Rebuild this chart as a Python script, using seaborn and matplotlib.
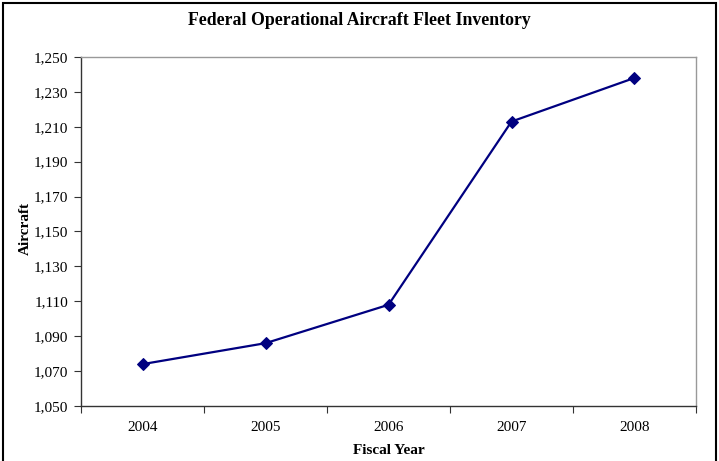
import matplotlib
matplotlib.use('Agg')
from matplotlib import pyplot as plt
from matplotlib.ticker import FuncFormatter, FixedLocator
import pandas as pd
import seaborn as sns

# Fleet inventory per fiscal year
years = ['2004', '2005', '2006', '2007', '2008']
aircraft = [1074, 1086, 1108, 1213, 1238]

df = pd.DataFrame({'year': years, 'aircraft': aircraft})

sns.set_style('white', {'text.color': 'black', 'axes.labelcolor': 'black',
                        'xtick.color': 'black', 'ytick.color': 'black'})
plt.rcParams['font.family'] = ['Liberation Serif', 'DejaVu Serif']

fig = plt.figure(figsize=(7.19, 4.61), dpi=100)
ax = fig.add_axes([0.1127, 0.1193, 0.8553, 0.7571])

sns.lineplot(data=df, x='year', y='aircraft', ax=ax, sort=False,
             color='#000080', linewidth=1.6, marker='D', markersize=6.5,
             markeredgecolor='#000080')

ax.set_xlim(-0.5, 4.5)
ax.set_ylim(1050, 1250)
ax.set_yticks(range(1050, 1251, 20))
ax.yaxis.set_major_formatter(FuncFormatter(lambda v, p: f'{int(v):,}'))

# ticks sit between categories, labels at centers
ax.xaxis.set_minor_locator(FixedLocator([i - 0.5 for i in range(len(years) + 1)]))
ax.tick_params(axis='x', which='major', length=0, labelsize=11, pad=11, labelcolor='black')
ax.tick_params(axis='x', which='minor', length=5, width=0.8, direction='out', color='#333333', bottom=True)
ax.tick_params(axis='y', length=5, width=0.8, direction='out', color='#333333', labelsize=11,
               left=True, pad=4, labelcolor='black')

for side in ['left', 'bottom']:
    ax.spines[side].set_color('#333333')
    ax.spines[side].set_linewidth(1.0)
for side in ['top', 'right']:
    ax.spines[side].set_color('#999999')
    ax.spines[side].set_linewidth(1.0)

ax.set_xlabel('Fiscal Year', fontweight='bold', fontsize=11, labelpad=7, color='black')
ax.set_ylabel('Aircraft', fontweight='bold', fontsize=11, color='black')
ax.yaxis.set_label_coords(-0.08, 0.51)
fig.suptitle('Federal Operational Aircraft Fleet Inventory', fontweight='bold', fontsize=12.8,
             y=0.975, color='black')

# outer chart border
fig.patches.append(plt.Rectangle((0.004, -0.01), 0.992, 1.003, transform=fig.transFigure,
                                 fill=False, edgecolor='black', linewidth=1.5))

fig.savefig('out.png', dpi=100)
